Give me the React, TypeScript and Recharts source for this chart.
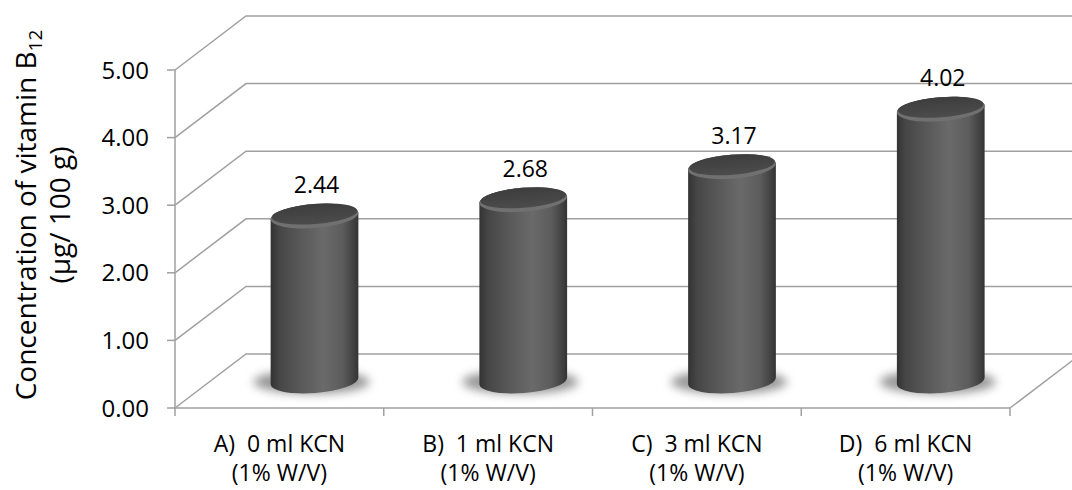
import { BarChart, Bar, XAxis, YAxis, CartesianGrid, LabelList } from 'recharts';

const categories = ['A)  0 ml KCN', 'B)  1 ml KCN', 'C)  3 ml KCN', 'D)  6 ml KCN'];
const concentrations = [2.44, 2.68, 3.17, 4.02];
const subLabel = '(1% W/V)';
const yTicks = [0, 1, 2, 3, 4, 5];

const data = categories.map((name, i) => ({ name, value: concentrations[i] }));

// 3D box depth: back wall sits up and to the right of the front plane
const DEPTH_X = 71;
const DEPTH_Y = -54;
const GRID = '#a0a0a0';
const FONT = '"Open Sans", sans-serif';
const TILT = -4.5;

function WallLine(props: any) {
  const { x1, x2, y1, y, height, index } = props;
  const isFloor = Math.abs(y1 - (y + height)) < 1;
  return (
    <g key={`wall-${index}`}>
      <polyline
        points={`${x1},${y1} ${x1 + DEPTH_X},${y1 + DEPTH_Y} ${x2 + DEPTH_X},${y1 + DEPTH_Y}`}
        fill="none"
        stroke={GRID}
        strokeWidth={1.5}
      />
      {isFloor && (
        <line x1={x2} y1={y1} x2={x2 + DEPTH_X} y2={y1 + DEPTH_Y} stroke={GRID} strokeWidth={1.5} />
      )}
    </g>
  );
}

function Cylinder(props: any) {
  const { x, y, width, height } = props;
  const rx = width / 2;
  const ry = 12;
  const cx = x + rx + DEPTH_X / 2;
  const top = y + DEPTH_Y / 2;
  const bottom = y + height + DEPTH_Y / 2;
  const t = (TILT * Math.PI) / 180;
  const ex = rx * Math.cos(t);
  const ey = rx * Math.sin(t);
  const left = (cy: number) => `${cx - ex},${cy - ey}`;
  const right = (cy: number) => `${cx + ex},${cy + ey}`;
  const body =
    `M ${left(top)} L ${left(bottom)} A ${rx} ${ry} ${TILT} 0 0 ${right(bottom)} ` +
    `L ${right(top)} A ${rx} ${ry} ${TILT} 0 0 ${left(top)} Z`;
  return (
    <g>
      <ellipse
        cx={cx - 3}
        cy={bottom + 1}
        rx={rx + 14}
        ry={ry}
        fill="#6a6a6a"
        opacity={0.7}
        filter="url(#cylShadow)"
      />
      <path d={body} fill="url(#cylBody)" />
      <ellipse cx={cx} cy={top} rx={rx} ry={ry} fill="#707070" transform={`rotate(${TILT} ${cx} ${top})`} />
      <ellipse
        cx={cx}
        cy={top - 2}
        rx={rx - 1}
        ry={ry - 2}
        fill="url(#cylCap)"
        transform={`rotate(${TILT} ${cx} ${top - 2})`}
      />
    </g>
  );
}

function ValueLabel(props: any) {
  const { x, y, width, value } = props;
  return (
    <text
      x={x + width / 2 + DEPTH_X / 2 + 2}
      y={y + DEPTH_Y / 2 - 32}
      textAnchor="middle"
      dominantBaseline="central"
      fontFamily={FONT}
      fontSize={23}
      fill="#000"
    >
      {Number(value).toFixed(2)}
    </text>
  );
}

function CategoryTick(props: any) {
  const { x, y, payload, index, width } = props;
  const half = payload.offset ?? width / (categories.length * 2);
  const last = index === categories.length - 1;
  return (
    <g>
      <line x1={x - half} y1={y} x2={x - half} y2={y + 8} stroke={GRID} strokeWidth={1.5} />
      {last && <line x1={x + half} y1={y} x2={x + half} y2={y + 8} stroke={GRID} strokeWidth={1.5} />}
      <text x={x} y={y} textAnchor="middle" fontFamily={FONT} fontSize={23} fill="#000" style={{ whiteSpace: 'pre' }}>
        <tspan x={x} dy={44}>{payload.value}</tspan>
        <tspan x={x} dy={29}>{subLabel}</tspan>
      </text>
    </g>
  );
}

export default function App() {
  return (
    <div style={{ position: 'absolute', left: 0, top: 0, width: 1072, height: 490, background: '#fff' }}>
      <BarChart width={1072} height={490} data={data} margin={{ top: 70, right: 62, bottom: 0, left: 0 }}>
        <defs>
          <linearGradient id="cylBody" x1="0" y1="0" x2="1" y2="0">
            <stop offset="0%" stopColor="#333333" />
            <stop offset="10%" stopColor="#464646" />
            <stop offset="35%" stopColor="#595959" />
            <stop offset="60%" stopColor="#6a6a6a" />
            <stop offset="82%" stopColor="#5c5c5c" />
            <stop offset="95%" stopColor="#404040" />
            <stop offset="100%" stopColor="#333333" />
          </linearGradient>
          <linearGradient id="cylCap" x1="0" y1="0" x2="0" y2="1">
            <stop offset="0%" stopColor="#3d3d3d" />
            <stop offset="100%" stopColor="#4c4c4c" />
          </linearGradient>
          <filter id="cylShadow" x="-50%" y="-150%" width="200%" height="400%">
            <feGaussianBlur stdDeviation="5" />
          </filter>
        </defs>
        <CartesianGrid vertical={false} horizontal={WallLine} />
        <XAxis
          dataKey="name"
          height={82}
          axisLine={{ stroke: GRID, strokeWidth: 1.5 }}
          tickLine={false}
          tickSize={0}
          tickMargin={0}
          interval={0}
          tick={<CategoryTick />}
        />
        <YAxis
          type="number"
          domain={[0, 5]}
          ticks={yTicks}
          interval={0}
          width={175}
          tickFormatter={(v: number) => v.toFixed(2)}
          axisLine={{ stroke: GRID, strokeWidth: 1.5 }}
          tickLine={{ stroke: GRID, strokeWidth: 1.5 }}
          tickSize={8}
          tickMargin={18}
          tick={{ fill: '#000', fontSize: 24, fontFamily: FONT }}
        />
        <Bar dataKey="value" barSize={88} shape={<Cylinder />} isAnimationActive={false}>
          <LabelList dataKey="value" content={<ValueLabel />} />
        </Bar>
        <text transform="translate(36,215) rotate(-90)" textAnchor="middle" fontFamily={FONT} fontSize={28} fill="#000">
          Concentration of vitamin B
          <tspan fontSize={19} dy={6}>12</tspan>
        </text>
        <text transform="translate(70,215) rotate(-90)" textAnchor="middle" fontFamily={FONT} fontSize={28} fill="#000">
          (µg/ 100 g)
        </text>
      </BarChart>
    </div>
  );
}
